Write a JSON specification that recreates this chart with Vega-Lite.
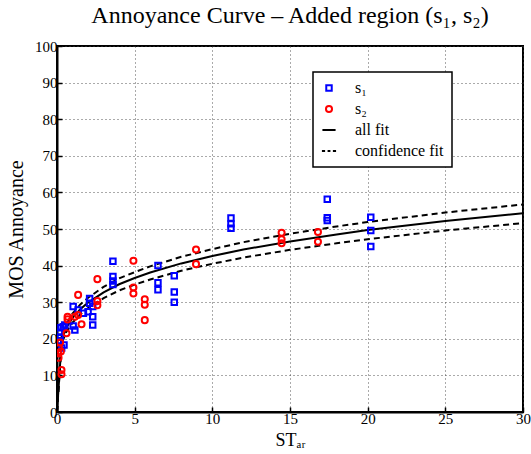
{
  "$schema": "https://vega.github.io/schema/vega-lite/v6.json",
  "width": 466,
  "height": 366,
  "autosize": {"type": "none"},
  "padding": {"left": 57, "top": 46, "right": 8, "bottom": 42},
  "background": "white",
  "title": {
    "text": "Annoyance Curve – Added region (s₁, s₂)",
    "font": "Liberation Serif",
    "fontSize": 24,
    "fontWeight": "normal",
    "color": "black",
    "anchor": "middle",
    "offset": 11
  },
  "datasets": {
    "pts": [
      {"x": 0.1, "y": 19.5, "series": "s₁"},
      {"x": 0.15, "y": 21.8, "series": "s₁"},
      {"x": 0.2, "y": 20.5, "series": "s₁"},
      {"x": 0.25, "y": 23.0, "series": "s₁"},
      {"x": 0.3, "y": 17.5, "series": "s₁"},
      {"x": 0.4, "y": 23.3, "series": "s₁"},
      {"x": 0.45, "y": 18.3, "series": "s₁"},
      {"x": 0.5, "y": 23.8, "series": "s₁"},
      {"x": 1.04, "y": 28.8, "series": "s₁"},
      {"x": 1.04, "y": 23.5, "series": "s₁"},
      {"x": 1.15, "y": 22.4, "series": "s₁"},
      {"x": 1.36, "y": 27.9, "series": "s₁"},
      {"x": 1.7, "y": 27.0, "series": "s₁"},
      {"x": 2.1, "y": 31.0, "series": "s₁"},
      {"x": 2.1, "y": 29.7, "series": "s₁"},
      {"x": 2.0, "y": 27.4, "series": "s₁"},
      {"x": 2.3, "y": 28.8, "series": "s₁"},
      {"x": 2.3, "y": 26.0, "series": "s₁"},
      {"x": 2.3, "y": 23.8, "series": "s₁"},
      {"x": 3.6, "y": 41.2, "series": "s₁"},
      {"x": 3.6, "y": 37.0, "series": "s₁"},
      {"x": 3.6, "y": 35.8, "series": "s₁"},
      {"x": 3.6, "y": 34.8, "series": "s₁"},
      {"x": 6.5, "y": 40.0, "series": "s₁"},
      {"x": 6.5, "y": 35.3, "series": "s₁"},
      {"x": 6.5, "y": 33.4, "series": "s₁"},
      {"x": 7.55, "y": 37.2, "series": "s₁"},
      {"x": 7.55, "y": 32.8, "series": "s₁"},
      {"x": 7.55, "y": 30.0, "series": "s₁"},
      {"x": 11.2, "y": 53.0, "series": "s₁"},
      {"x": 11.2, "y": 51.4, "series": "s₁"},
      {"x": 11.2, "y": 50.2, "series": "s₁"},
      {"x": 17.4, "y": 58.1, "series": "s₁"},
      {"x": 17.4, "y": 53.1, "series": "s₁"},
      {"x": 17.4, "y": 52.3, "series": "s₁"},
      {"x": 20.2, "y": 53.2, "series": "s₁"},
      {"x": 20.2, "y": 49.6, "series": "s₁"},
      {"x": 20.2, "y": 45.2, "series": "s₁"},
      {"x": 0.08, "y": 16.0, "series": "s₂"},
      {"x": 0.1, "y": 14.8, "series": "s₂"},
      {"x": 0.12, "y": 17.5, "series": "s₂"},
      {"x": 0.2, "y": 19.0, "series": "s₂"},
      {"x": 0.25, "y": 16.5, "series": "s₂"},
      {"x": 0.29, "y": 11.5, "series": "s₂"},
      {"x": 0.29, "y": 10.3, "series": "s₂"},
      {"x": 0.61, "y": 21.5, "series": "s₂"},
      {"x": 0.68, "y": 26.0, "series": "s₂"},
      {"x": 0.68, "y": 25.3, "series": "s₂"},
      {"x": 1.15, "y": 26.0, "series": "s₂"},
      {"x": 1.36, "y": 32.0, "series": "s₂"},
      {"x": 1.36, "y": 26.5, "series": "s₂"},
      {"x": 1.58, "y": 24.0, "series": "s₂"},
      {"x": 2.6, "y": 36.3, "series": "s₂"},
      {"x": 2.6, "y": 30.3, "series": "s₂"},
      {"x": 2.6, "y": 29.2, "series": "s₂"},
      {"x": 4.92, "y": 41.3, "series": "s₂"},
      {"x": 4.92, "y": 34.0, "series": "s₂"},
      {"x": 4.92, "y": 32.4, "series": "s₂"},
      {"x": 5.65, "y": 30.8, "series": "s₂"},
      {"x": 5.65, "y": 29.3, "series": "s₂"},
      {"x": 5.65, "y": 25.1, "series": "s₂"},
      {"x": 8.95, "y": 44.4, "series": "s₂"},
      {"x": 8.95, "y": 40.4, "series": "s₂"},
      {"x": 14.46, "y": 49.0, "series": "s₂"},
      {"x": 14.46, "y": 47.2, "series": "s₂"},
      {"x": 14.46, "y": 46.1, "series": "s₂"},
      {"x": 16.8, "y": 49.2, "series": "s₂"},
      {"x": 16.8, "y": 46.5, "series": "s₂"}
    ],
    "fit": [
      {"x": 0, "y": 0, "line": "fit"},
      {"x": 0.3, "y": 19.7, "line": "fit"},
      {"x": 0.6, "y": 23.0, "line": "fit"},
      {"x": 1, "y": 25.7, "line": "fit"},
      {"x": 1.5, "y": 28.1, "line": "fit"},
      {"x": 2, "y": 29.9, "line": "fit"},
      {"x": 3, "y": 32.7, "line": "fit"},
      {"x": 4, "y": 34.9, "line": "fit"},
      {"x": 5, "y": 36.6, "line": "fit"},
      {"x": 6, "y": 38.1, "line": "fit"},
      {"x": 8, "y": 40.6, "line": "fit"},
      {"x": 10, "y": 42.6, "line": "fit"},
      {"x": 12, "y": 44.4, "line": "fit"},
      {"x": 15, "y": 46.6, "line": "fit"},
      {"x": 18, "y": 48.5, "line": "fit"},
      {"x": 20, "y": 49.7, "line": "fit"},
      {"x": 25, "y": 52.2, "line": "fit"},
      {"x": 30, "y": 54.3, "line": "fit"}
    ],
    "conf": [
      {"x": 0, "y": 0, "line": "upper"},
      {"x": 0.3, "y": 20.6, "line": "upper"},
      {"x": 0.6, "y": 24.0, "line": "upper"},
      {"x": 1, "y": 26.9, "line": "upper"},
      {"x": 1.5, "y": 29.4, "line": "upper"},
      {"x": 2, "y": 31.2, "line": "upper"},
      {"x": 3, "y": 34.2, "line": "upper"},
      {"x": 4, "y": 36.5, "line": "upper"},
      {"x": 5, "y": 38.2, "line": "upper"},
      {"x": 6, "y": 39.8, "line": "upper"},
      {"x": 8, "y": 42.4, "line": "upper"},
      {"x": 10, "y": 44.5, "line": "upper"},
      {"x": 12, "y": 46.4, "line": "upper"},
      {"x": 15, "y": 48.7, "line": "upper"},
      {"x": 18, "y": 50.7, "line": "upper"},
      {"x": 20, "y": 51.9, "line": "upper"},
      {"x": 25, "y": 54.5, "line": "upper"},
      {"x": 30, "y": 56.7, "line": "upper"},
      {"x": 0, "y": 0, "line": "lower"},
      {"x": 0.3, "y": 18.7, "line": "lower"},
      {"x": 0.6, "y": 21.9, "line": "lower"},
      {"x": 1, "y": 24.4, "line": "lower"},
      {"x": 1.5, "y": 26.7, "line": "lower"},
      {"x": 2, "y": 28.4, "line": "lower"},
      {"x": 3, "y": 31.1, "line": "lower"},
      {"x": 4, "y": 33.2, "line": "lower"},
      {"x": 5, "y": 34.8, "line": "lower"},
      {"x": 6, "y": 36.2, "line": "lower"},
      {"x": 8, "y": 38.6, "line": "lower"},
      {"x": 10, "y": 40.5, "line": "lower"},
      {"x": 12, "y": 42.2, "line": "lower"},
      {"x": 15, "y": 44.3, "line": "lower"},
      {"x": 18, "y": 46.1, "line": "lower"},
      {"x": 20, "y": 47.2, "line": "lower"},
      {"x": 25, "y": 49.6, "line": "lower"},
      {"x": 30, "y": 51.6, "line": "lower"}
    ]
  },
  "encoding": {
    "x": {"field": "x", "type": "quantitative", "scale": {"domain": [0, 30], "nice": false, "zero": false},
          "axis": {"title": "STₐᵣ", "values": [0, 5, 10, 15, 20, 25, 30], "format": "d"}},
    "y": {"field": "y", "type": "quantitative", "scale": {"domain": [0, 100], "nice": false, "zero": false},
          "axis": {"title": "MOS Annoyance", "values": [0, 10, 20, 30, 40, 50, 60, 70, 80, 90, 100], "format": "d"}}
  },
  "layer": [
    {
      "data": {"name": "fit"},
      "mark": {"type": "line", "strokeWidth": 2, "color": "black", "clip": true},
      "encoding": {}
    },
    {
      "data": {"name": "conf"},
      "mark": {"type": "line", "strokeWidth": 2, "color": "black", "strokeDash": [6, 4], "clip": true},
      "encoding": {"detail": {"field": "line"}}
    },
    {
      "data": {"name": "pts"},
      "mark": {"type": "point", "filled": false, "strokeWidth": 2, "opacity": 1, "clip": true},
      "encoding": {
        "color": {"field": "series", "type": "nominal", "title": null,
                  "scale": {"domain": ["s₁", "s₂", "all fit", "confidence fit"], "range": ["#0000ff", "#ff0000", "#000000", "#000000"]}},
        "shape": {"field": "series", "type": "nominal", "title": null,
                  "scale": {"domain": ["s₁", "s₂", "all fit", "confidence fit"], "range": ["square", "circle", "M-2,0H2", "M-2,0H-1.1M-0.4,0H0.4M1.1,0H2"]}},
        "size": {"field": "series", "type": "nominal", "title": null,
                  "scale": {"domain": ["s₁", "s₂", "all fit", "confidence fit"], "range": [30, 50, 2000, 2000]}}
      }
    }
  ],
  "config": {
    "font": "Liberation Serif",
    "view": {"stroke": "black", "strokeWidth": 2},
    "axis": {
      "domainColor": "black",
      "domainWidth": 2,
      "tickColor": "black",
      "tickWidth": 1.5,
      "tickSize": -5,
      "labelFont": "Liberation Serif",
      "labelFontSize": 15,
      "labelColor": "black",
      "labelOverlap": false,
      "titleFont": "Liberation Serif",
      "titleFontSize": 18,
      "titleFontWeight": "normal",
      "titleColor": "black",
      "grid": true,
      "gridColor": "#444",
      "gridDash": [1, 3],
      "gridWidth": 1,
      "gridOpacity": 0.9,
      "labelFlush": false
    },
    "axisX": {"labelPadding": 4, "titlePadding": 5},
    "axisY": {"labelPadding": 5, "titlePadding": 8, "titleFontSize": 20},
    "legend": {
      "orient": "none",
      "legendX": 256,
      "legendY": 26,
      "strokeColor": "black",
      "strokeWidth": 1.5,
      "fillColor": "white",
      "padding": 8,
      "labelFont": "Liberation Serif",
      "labelFontSize": 16,
      "labelColor": "black",
      "rowPadding": 5,
      "symbolStrokeWidth": 2,
      "labelOffset": 18
    }
  }
}
